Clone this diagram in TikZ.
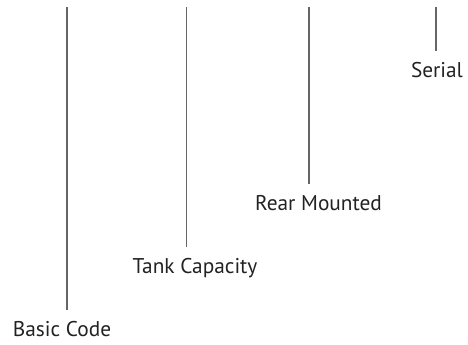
\documentclass[tikz,border=0pt]{standalone}
\usepackage{fontspec}
\setmainfont{PT Sans}
\usepackage{tikz}

\definecolor{leadgray}{HTML}{666666}
\definecolor{labeltext}{HTML}{222222}

\begin{document}
\begin{tikzpicture}[x=0.75pt, y=-0.75pt]
		\tikzstyle {lead line} = [leadgray, line width=0.8pt]
		\tikzstyle {part label} = [anchor=base, inner sep=0pt, outer sep=9pt, text=labeltext, font=\fontsize{16}{19}\selectfont]

		\useasboundingbox (0, 0) rectangle (468, 345);

		% labels, set on their baselines
		\node[part label] (basic) at (62, 337) {Basic Code};
		\node[part label] (tank) at (195, 274) {Tank Capacity};
		\node[part label] (rear) at (318.5, 211) {Rear Mounted};
		\node[part label] (serial) at (437, 78) {Serial};

		% upper ends of the lead lines
		\coordinate (basic top) at (67, 7);
		\coordinate (tank top) at (186.5, 7);
		\coordinate (rear top) at (309, 7);
		\coordinate (serial top) at (436, 7);

		\draw[lead line] (basic top) -- (basic top |- basic.north);
		\draw[lead line] (tank top) -- (tank top |- tank.north);
		\draw[lead line] (rear top) -- (rear top |- rear.north);
		\draw[lead line] (serial top) -- (serial top |- serial.north);

	\end{tikzpicture}
\end{document}
